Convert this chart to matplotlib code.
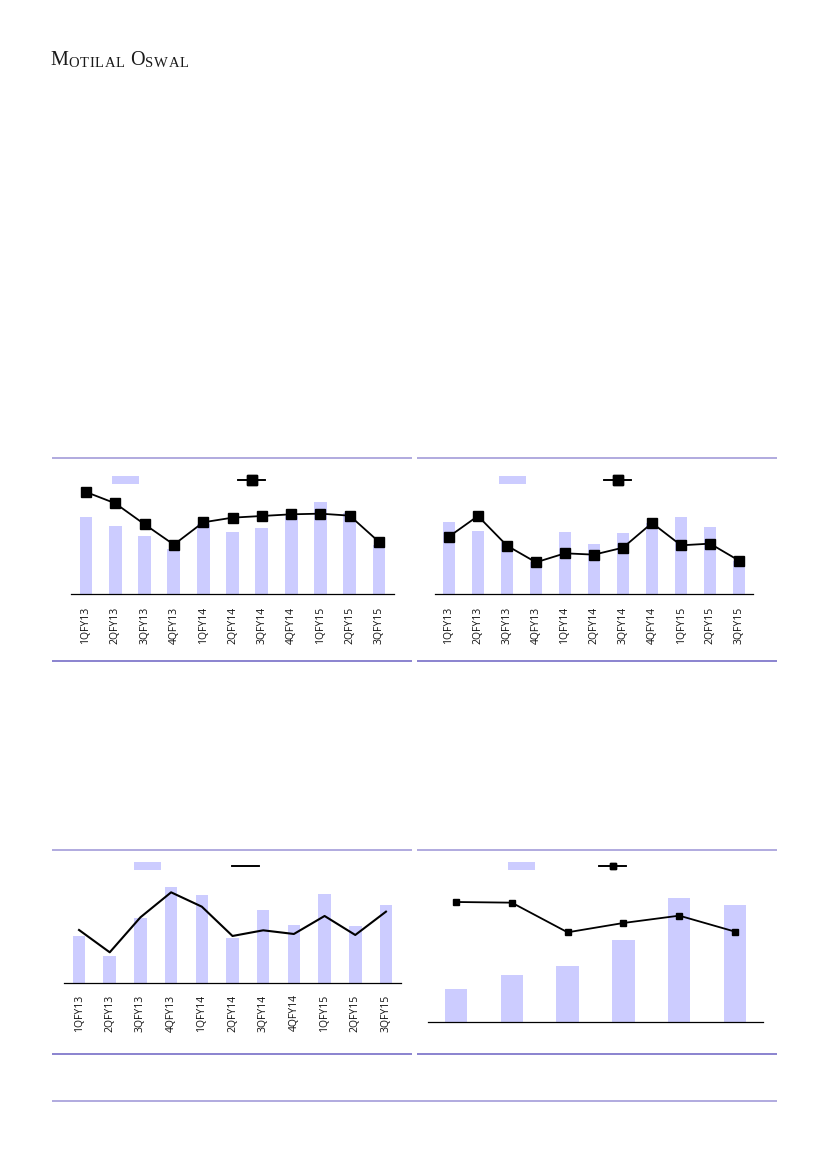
import matplotlib
matplotlib.use("Agg")
import matplotlib.pyplot as plt
from matplotlib.lines import Line2D
from matplotlib.patches import Patch
from matplotlib.text import Annotation

W, H = 827, 1169

quarters = ['1QFY13', '2QFY13', '3QFY13', '4QFY13', '1QFY14', '2QFY14',
            '3QFY14', '4QFY14', '1QFY15', '2QFY15', '3QFY15']
years = ['FY10', 'FY11', 'FY12', 'FY13', 'FY14', 'FY15']

bars1 = [233, 205, 176, 137, 211, 186, 199, 236, 277, 245, 148]
line1 = [307, 273, 210, 149, 216, 230, 235, 240, 242, 236, 157]

bars2 = [218, 190, 158, 98, 186, 152, 183, 214, 233, 202, 100]
line2 = [173, 235, 146, 96, 123, 119, 140, 214, 147, 152, 101]

bars3 = [142, 83, 195, 289, 264, 137, 221, 176, 267, 173, 235]
line3 = [160, 93, 198, 273, 230, 142, 159, 148, 202, 145, 215]

bars4 = [100, 141, 169, 247, 373, 352]
line4 = [361, 359, 270, 298, 320, 272]

BAR_C = '#ccccff'
TOP_C = '#aaa4dc'
BOT_C = '#6b62c2'


def fx(px):
    return px / W


def fy(py):
    return 1 - py / H


def hline(fig, x0, x1, y, color, lw):
    fig.add_artist(Line2D([fx(x0), fx(x1)], [fy(y), fy(y)], color=color, lw=lw,
                          transform=fig.transFigure, solid_capstyle='butt'))


def make_axes(fig, left, right, base, top):
    ax = fig.add_axes([fx(left), fy(base), fx(right - left), (base - top) / H])
    for s in ['top', 'right', 'left']:
        ax.spines[s].set_visible(False)
    ax.spines['bottom'].set_linewidth(0.9)
    ax.set_yticks([])
    ax.tick_params(axis='x', length=0, pad=9, labelsize=7.5, rotation=90, colors='#111111')
    return ax


def add_legend(fig, ax, bar_x, line_x, y, marker, ms):
    h1 = Patch(facecolor=BAR_C, edgecolor='none')
    h2 = Line2D([], [], color='black', lw=1.2, marker=marker, markersize=ms)
    for h, x in [(h1, bar_x), (h2, line_x)]:
        leg = ax.legend(handles=[h], labels=[''], loc='center left',
                        bbox_to_anchor=(fx(x), fy(y)), bbox_transform=fig.transFigure,
                        frameon=False, borderpad=0, borderaxespad=0, handletextpad=0,
                        handlelength=2.45, fontsize=8)
        ax.add_artist(leg)


def quarter_chart(fig, bars, line, left, right, base, top, ymax, width, margin,
                  marker, ms, lw):
    ax = make_axes(fig, left, right, base, top)
    x = list(range(len(bars)))
    ax.bar(x, bars, width=width, color=BAR_C, edgecolor='none', zorder=1)
    ax.plot(x, line, color='black', lw=lw, marker=marker, markersize=ms, zorder=3)
    ax.set_xlim(-margin, len(bars) - 1 + margin)
    ax.set_ylim(0, ymax)
    return ax


fig = plt.figure(figsize=(W / 100, H / 100), dpi=100)

# header, small caps drawn letter by letter
head = [('M', 14.5), ('O', 10.5), ('T', 10.5), ('I', 10.5), ('L', 10.5), ('A', 10.5),
        ('L', 10.5), (' ', 10.5), ('O', 14.5), ('S', 10.5), ('W', 10.5), ('A', 10.5),
        ('L', 10.5)]
prev = fig.text(fx(50), fy(65), head[0][0], fontsize=head[0][1],
                family='Liberation Serif', color='#1a1a1a')
for ch, size in head[1:]:
    prev = fig.add_artist(Annotation(ch, xy=(1, 0), xycoords=prev,
                                     xytext=(0.5, 0), textcoords='offset points',
                                     va='bottom', ha='left', fontsize=size,
                                     family='Liberation Serif', color='#1a1a1a'))

# chart 1
ax1 = quarter_chart(fig, bars1, line1, 71, 394, 594.3, 470, 373, 0.44, 0.51, 's', 7, 1.3)
ax1.set_xticks(range(len(quarters)))
ax1.set_xticklabels(quarters, family='Open Sans')
add_legend(fig, ax1, 112, 238, 481, 's', 7)

# chart 2
ax2 = quarter_chart(fig, bars2, line2, 435, 753, 594.3, 470, 373, 0.42, 0.48, 's', 7, 1.3)
ax2.set_xticks(range(len(quarters)))
ax2.set_xticklabels(quarters, family='Open Sans')
add_legend(fig, ax2, 499, 604, 481, 's', 7)

# chart 3
ax3 = quarter_chart(fig, bars3, line3, 64, 401, 983.3, 860, 370, 0.41, 0.49, None, 0, 1.5)
ax3.set_xticks(range(len(quarters)))
ax3.set_xticklabels(quarters, family='Open Sans')
ax3.tick_params(axis='x', pad=8)
add_legend(fig, ax3, 134, 232, 867, None, 0)

# chart 4
ax4 = quarter_chart(fig, bars4, line4, 428, 763, 1022.3, 860, 487, 0.4, 0.5, 's', 4.5, 1.3)
ax4.set_xticks(range(len(years)))
ax4.tick_params(axis='x', labelbottom=False)
add_legend(fig, ax4, 508, 599, 867, 's', 4.5)

# separator rules
for y_top, y_bot in [(458, 661), (850, 1054)]:
    hline(fig, 52, 412, y_top, TOP_C, 1.3)
    hline(fig, 417, 777, y_top, TOP_C, 1.3)
    hline(fig, 52, 412, y_bot, BOT_C, 1.1)
    hline(fig, 417, 777, y_bot, BOT_C, 1.1)
hline(fig, 52, 777, 1100.5, TOP_C, 1.3)

fig.savefig('out.png', dpi=100)
